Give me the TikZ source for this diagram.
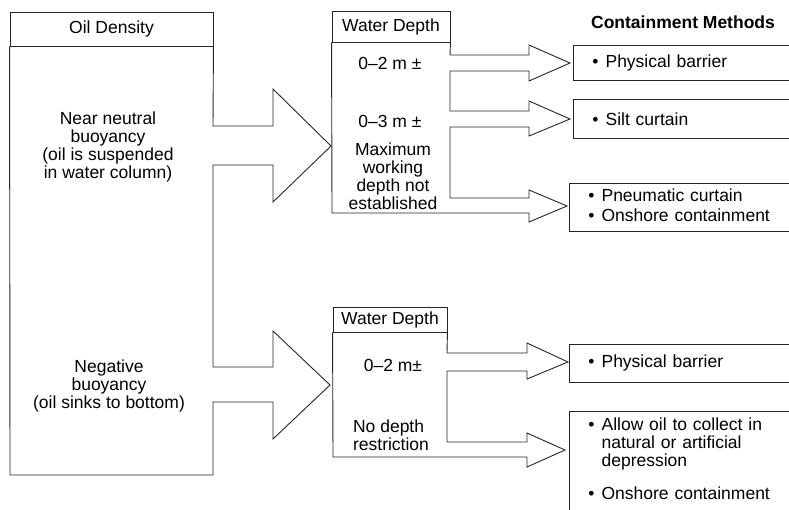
\documentclass[tikz,border=0pt]{standalone}
\usepackage{fontspec}
\setmainfont{Liberation Sans}
\usepackage{tikz}
\usetikzlibrary{positioning}

\begin{document}
\begin{tikzpicture}[x=1pt, y=-1pt, line width=0.9pt, draw=black!85,
  every node/.style={font=\fontsize{17.5}{18}\selectfont},
  headbox/.style={draw, inner sep=0pt},
  methbox/.style={draw, anchor=north west, align=left, text width=190pt, inner xsep=19pt}]
\useasboundingbox (0,0) rectangle (789,509);
% oil density column
\node[headbox, minimum width=203pt, minimum height=34pt] (oilhead) at (111.5,29) {Oil Density};
\node[align=center] (neutral) at (108,147) {Near neutral\\buoyancy\\(oil is suspended\\in water column)};
\node[align=center] (negative) at (109,386) {Negative\\buoyancy\\(oil sinks to bottom)};
\draw (oilhead.south west) -- (10,475) -- (213,475) -- (213,402) -- (273,402) -- (273,439) -- (330,385) -- (273,331) -- (273,367) -- (213,367) -- (213,165) -- (273,165) -- (273,202) -- (331,146) -- (273,89) -- (273,126) -- (213,126) -- (oilhead.south east);
% water depth, upper
\node[headbox, minimum width=118pt, minimum height=31pt] (depthA) at (391,26.5) {Water Depth};
\node (shallowA) at (390,63) {0–2 m ±};
\node (midA) at (390,121) {0–3 m ±};
\node[align=center] (deepA) at (393,176) {Maximum\\working\\depth not\\established};
\draw (depthA.south east) -- (450,55) -- (529,55) -- (529,45) -- (570,63) -- (529,81) -- (529,71) -- (450,71) -- (450,111) -- (529,111) -- (529,101) -- (570,119) -- (529,136) -- (529,127) -- (450,127) -- (450,198) -- (529,198) -- (529,190) -- (567,206) -- (529,222) -- (529,213) -- (332,213) -- (depthA.south west);
% water depth, lower
\node[headbox, minimum width=114pt, minimum height=25pt] (depthB) at (390,319.5) {Water Depth};
\node (shallowB) at (393,365) {0–2 m±};
\node[align=left] (anyB) at (391,435) {No depth\\restriction};
\draw (depthB.south east) -- (447,353) -- (527,353) -- (527,343) -- (568,362) -- (527,379) -- (527,371) -- (447,371) -- (447,442) -- (527,442) -- (527,433) -- (565,450) -- (527,467) -- (527,457) -- (333,457) -- (depthB.south west);
% containment methods
\node[font=\fontsize{17.5}{18}\selectfont\bfseries] (title) at (683,22) {Containment Methods};
\node[methbox, minimum height=35pt] (barrierA) at (573,45) {\textbullet\hspace{7pt}Physical barrier};
\node[methbox, minimum height=39pt] (siltA) at (573,99) {\textbullet\hspace{7pt}Silt curtain};
\node[methbox, minimum height=48pt] (pneuA) at (569,183) {\begin{tabular}{@{}l@{\hspace{7pt}}l@{}}\textbullet & Pneumatic curtain\\[2pt] \textbullet & Onshore containment\end{tabular}};
\node[methbox, minimum height=38pt] (barrierB) at (569,344) {\textbullet\hspace{7pt}Physical barrier};
\node[methbox, minimum height=100pt] (collectB) at (569,411) {\begin{tabular}{@{}l@{\hspace{7pt}}l@{}}\textbullet & Allow oil to collect in\\ & natural or artificial\\ & depression\\[15pt] \textbullet & Onshore containment\end{tabular}};
\end{tikzpicture}
\end{document}
